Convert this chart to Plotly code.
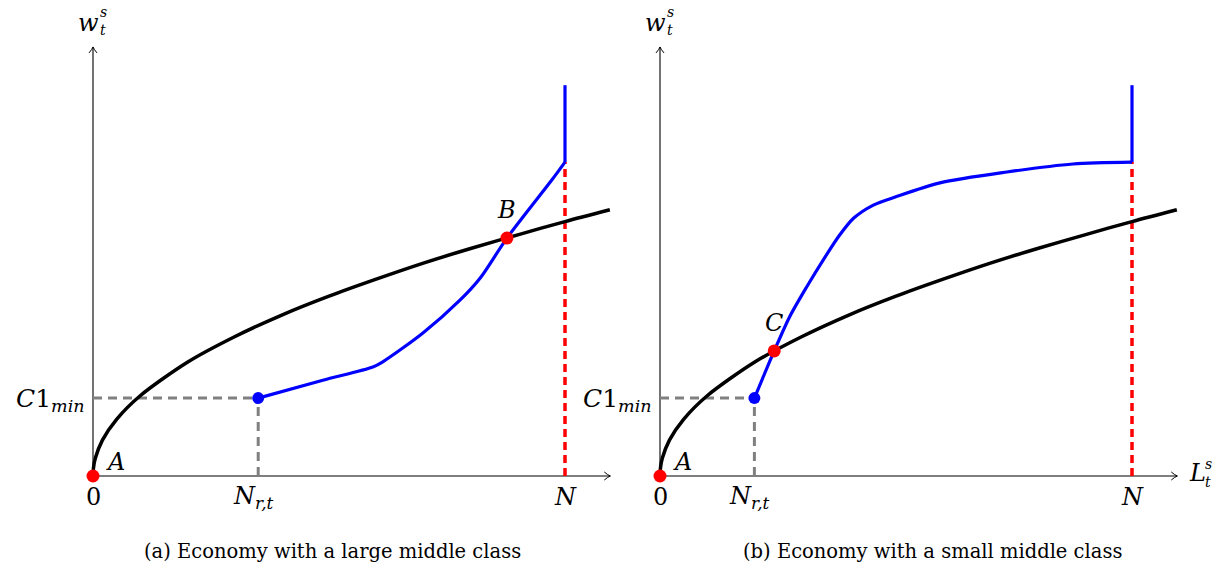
import plotly.graph_objects as go

# ---- data (model units) ----
N_VALUE = 10.0
C1_MIN = 1.65
NR_LARGE = 3.50   # N_{r,t} in the large-middle-class economy
NR_SMALL = 2.00   # N_{r,t} in the small-middle-class economy
W_TOP = 8.28      # top of the vertical supply segment at N
W_CORNER = 6.65   # wage where supply reaches N

# black curve (identical in both panels)
curve_x = [0, 0.01, 0.05, 0.2, 0.5, 1, 2, 3, 4, 5, 6, 7, 8, 9, 10, 10.95]
curve_y = [0, 0.17, 0.38, 0.76, 1.20, 1.70, 2.41, 2.95, 3.41, 3.81, 4.17, 4.51, 4.82, 5.11, 5.39, 5.64]

# blue curve, panel (a)
blue_a_x = [3.50, 4.87, 5.93, 6.14, 6.99, 7.78, 8.20, 8.77, 9.72, 10.0]
blue_a_y = [1.65, 2.03, 2.31, 2.42, 3.03, 3.73, 4.19, 5.04, 6.27, 6.65]

# blue curve, panel (b)
blue_b_x = [2.00, 2.42, 2.75, 3.11, 3.46, 3.81, 4.10, 4.52, 5.01, 5.93, 7.35, 8.75, 10.0]
blue_b_y = [1.65, 2.65, 3.38, 4.01, 4.58, 5.11, 5.46, 5.74, 5.92, 6.21, 6.44, 6.61, 6.65]

# intersection points
point_B = (8.77, 5.04)
point_C = (2.42, 2.65)

captions = ["(a) Economy with a large middle class",
            "(b) Economy with a small middle class"]

# ---- layout constants ----
W, H = 1224, 572
S = 47.2               # pixels per unit
ORIGIN_A = 93          # px of origin, panel (a)
ORIGIN_B = 660 - 612   # px of origin inside panel (b)
ORIGIN_Y = 96          # px from bottom
X_TIP = 10.96
Y_TIP = 9.09

SERIF = "DejaVu Serif"
MATH = 24
SCRIPT = 14

fig = go.Figure()

panels = [
    ("x", NR_LARGE, blue_a_x, blue_a_y, point_B, "B"),
    ("x2", NR_SMALL, blue_b_x, blue_b_y, point_C, "C"),
]

annotations = []
shapes = []


def text(xref, x, y, s, size=MATH, xanchor="center", yanchor="middle", align="center"):
    annotations.append(dict(xref=xref, yref="y", x=x, y=y, text=s, showarrow=False,
                            xanchor=xanchor, yanchor=yanchor, align=align, borderpad=0,
                            font=dict(family=SERIF, size=size, color="black")))


def arrow_head(xref, x, y, path):
    shapes.append(dict(type="path", xref=xref, yref="y", xsizemode="pixel", ysizemode="pixel",
                       xanchor=x, yanchor=y, path=path, line=dict(color="black", width=1)))


for xref, nr, bx, by, pt, pname in panels:
    # axes
    fig.add_trace(go.Scatter(x=[0, X_TIP], y=[0, 0], xaxis=xref, yaxis="y", mode="lines",
                             line=dict(color="black", width=1.1), hoverinfo="skip"))
    fig.add_trace(go.Scatter(x=[0, 0], y=[0, Y_TIP], xaxis=xref, yaxis="y", mode="lines",
                             line=dict(color="black", width=1.1), hoverinfo="skip"))
    arrow_head(xref, X_TIP, 0, "M-6,4 Q-2.5,1 0,0 Q-2.5,-1 -6,-4")
    arrow_head(xref, 0, Y_TIP, "M-4,-6 Q-1,-2.5 0,0 Q1,-2.5 4,-6")

    # grey guides to C1_min and N_{r,t}
    fig.add_trace(go.Scatter(x=[0, nr], y=[C1_MIN, C1_MIN], xaxis=xref, yaxis="y", mode="lines",
                             line=dict(color="#808080", width=3, dash="9px,6px"), hoverinfo="skip"))
    fig.add_trace(go.Scatter(x=[nr, nr], y=[0, C1_MIN], xaxis=xref, yaxis="y", mode="lines",
                             line=dict(color="#808080", width=3, dash="9px,6px"), hoverinfo="skip"))
    # red dashed line at N
    fig.add_trace(go.Scatter(x=[N_VALUE, N_VALUE], y=[0, W_CORNER], xaxis=xref, yaxis="y", mode="lines",
                             line=dict(color="#ff0000", width=3.5, dash="8px,5px"), hoverinfo="skip"))

    # black curve
    fig.add_trace(go.Scatter(x=curve_x, y=curve_y, xaxis=xref, yaxis="y", mode="lines",
                             line=dict(color="black", width=3.5, shape="spline", smoothing=0.8),
                             hoverinfo="skip"))
    # blue curve plus vertical segment at N
    fig.add_trace(go.Scatter(x=bx, y=by, xaxis=xref, yaxis="y", mode="lines",
                             line=dict(color="#0000ff", width=3.2, shape="spline", smoothing=0.8),
                             hoverinfo="skip"))
    fig.add_trace(go.Scatter(x=[N_VALUE, N_VALUE], y=[W_CORNER, W_TOP], xaxis=xref, yaxis="y", mode="lines",
                             line=dict(color="#0000ff", width=3.2), hoverinfo="skip"))

    # points
    fig.add_trace(go.Scatter(x=[nr], y=[C1_MIN], xaxis=xref, yaxis="y", mode="markers",
                             marker=dict(color="#0000ff", size=12), hoverinfo="skip"))
    fig.add_trace(go.Scatter(x=[0, pt[0]], y=[0, pt[1]], xaxis=xref, yaxis="y", mode="markers",
                             marker=dict(color="#ff0000", size=13), hoverinfo="skip"))

    # axis names with stacked super/subscripts
    text(xref, 0.15, 9.6, "<i>w</i>", xanchor="right")
    text(xref, 0.13, 9.63, "<i>s</i><br><i>t</i>", size=SCRIPT, xanchor="left", align="left")
    text(xref, X_TIP + 0.22, 0.06, "<i>L</i>", xanchor="left")
    text(xref, X_TIP + 0.56, 0.06, "<i>s</i><br><i>t</i>", size=SCRIPT, xanchor="left", align="left")

    # tick-like labels and point names
    text(xref, 0, -0.45, "0")
    text(xref, N_VALUE, -0.45, "<i>N</i>")
    text(xref, nr - 0.1, -0.45, "<i>N</i><sub><i>r,t</i></sub>")
    text(xref, -0.14, C1_MIN - 0.05, "<i>C</i>1<sub><i>min</i></sub>", size=25, xanchor="right")
    text(xref, 0.25, 0.30, "<i>A</i>", xanchor="left")
    text(xref, pt[0], pt[1] + 0.6, "<i>%s</i>" % pname)

for i, cap in enumerate(captions):
    annotations.append(dict(xref="paper", yref="paper", x=[332 / W, 932 / W][i], y=(H - 551) / H,
                            text=cap, showarrow=False, xanchor="center", yanchor="middle",
                            font=dict(family=SERIF, size=19.5, color="black")))

fig.update_layout(
    width=W, height=H,
    margin=dict(l=0, r=0, t=0, b=0),
    paper_bgcolor="white", plot_bgcolor="white",
    showlegend=False,
    font=dict(family=SERIF),
    xaxis=dict(domain=[0, 0.5], range=[-ORIGIN_A / S, (612 - ORIGIN_A) / S], visible=False, fixedrange=True),
    xaxis2=dict(domain=[0.5, 1], range=[-ORIGIN_B / S, (612 - ORIGIN_B) / S], visible=False,
                anchor="y", fixedrange=True),
    yaxis=dict(domain=[0, 1], range=[-ORIGIN_Y / S, (H - ORIGIN_Y) / S], visible=False, fixedrange=True),
    annotations=annotations,
    shapes=shapes,
)

fig.write_html("out.html")
